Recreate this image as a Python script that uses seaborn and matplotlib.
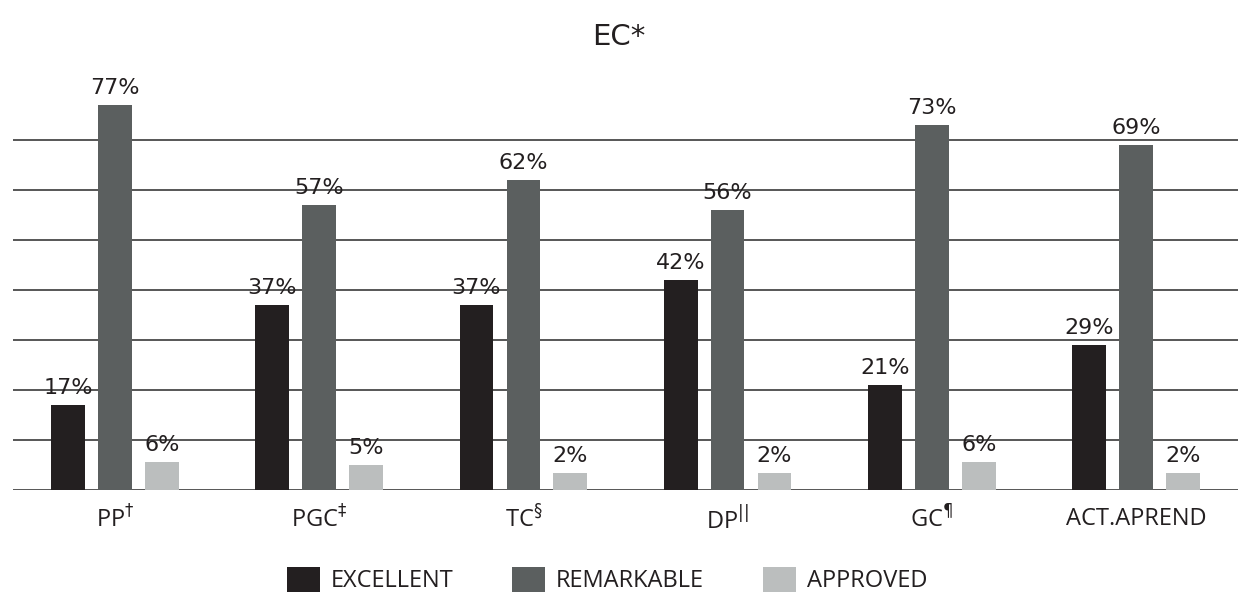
import matplotlib
matplotlib.use("Agg")
import matplotlib.pyplot as plt
import seaborn as sns
import pandas as pd
from matplotlib.patches import Patch

categories = ["PP$^{\u2020}$", "PGC$^{\u2021}$", "TC$^{\u00a7}$", "DP$^{||}$", "GC$^{\u00b6}$", "ACT.APREND"]
series = ["EXCELLENT", "REMARKABLE", "APPROVED"]
excellent = [17, 37, 37, 42, 21, 29]
remarkable = [77, 57, 62, 56, 73, 69]
approved = [5.6, 5, 3.5, 3.5, 5.6, 3.5]
excellent_labels = ["17%", "37%", "37%", "42%", "21%", "29%"]
remarkable_labels = ["77%", "57%", "62%", "56%", "73%", "69%"]
approved_labels = ["6%", "5%", "2%", "2%", "6%", "2%"]
colors = ["#231f20", "#5b5f5f", "#bbbebe"]

rows = []
for s, vals in zip(series, [excellent, remarkable, approved]):
    for c, v in zip(categories, vals):
        rows.append({"cat": c, "series": s, "value": v})
df = pd.DataFrame(rows)

sns.set_style("white")
plt.rcParams["mathtext.fontset"] = "dejavusans"

fig = plt.figure(figsize=(12.38, 5.94), dpi=100)
ax = fig.add_axes([13 / 1238, 104 / 594, (1238 - 13) / 1238, 400 / 594])

sns.barplot(data=df, x="cat", y="value", hue="series", order=categories,
            hue_order=series, palette=colors, width=0.69, gap=0.28,
            saturation=1, ax=ax, legend=False, edgecolor="none", linewidth=0)

for cont, labs in zip(ax.containers, [excellent_labels, remarkable_labels, approved_labels]):
    ax.bar_label(cont, labels=labs, padding=5, fontsize=16, color="#231f20",
                 family="DejaVu Sans")

ax.set_ylim(0, 80)
ax.set_xlim(-0.5, 5.5)
ax.set_yticks([0, 10, 20, 30, 40, 50, 60, 70])
ax.set_yticklabels([])
ax.tick_params(axis="y", length=0)
ax.tick_params(axis="x", length=0, pad=12, labelsize=17, labelcolor="#231f20")
for lab in ax.get_xticklabels():
    lab.set_family("Open Sans")
ax.yaxis.grid(True, color="#3a3a3a", linewidth=1.2)
ax.set_axisbelow(True)
for sp in ax.spines.values():
    sp.set_visible(False)
ax.set_xlabel("")
ax.set_ylabel("")

fig.text(0.5, 1 - 37 / 594, "EC*", ha="center", va="center", fontsize=21,
         color="#231f20", family="DejaVu Sans")

handles = [Patch(facecolor=c, edgecolor="none") for c in colors]
leg = fig.legend(handles, series, loc="center",
                 bbox_to_anchor=(0.5 - 12 / 1238, 1 - 580 / 594),
                 ncol=3, frameon=False, handlelength=1.4,
                 handleheight=1.3, handletextpad=0.45, columnspacing=2.5,
                 prop={"family": "Open Sans", "size": 17})
for t in leg.get_texts():
    t.set_color("#231f20")

fig.savefig("out.png", dpi=100)
